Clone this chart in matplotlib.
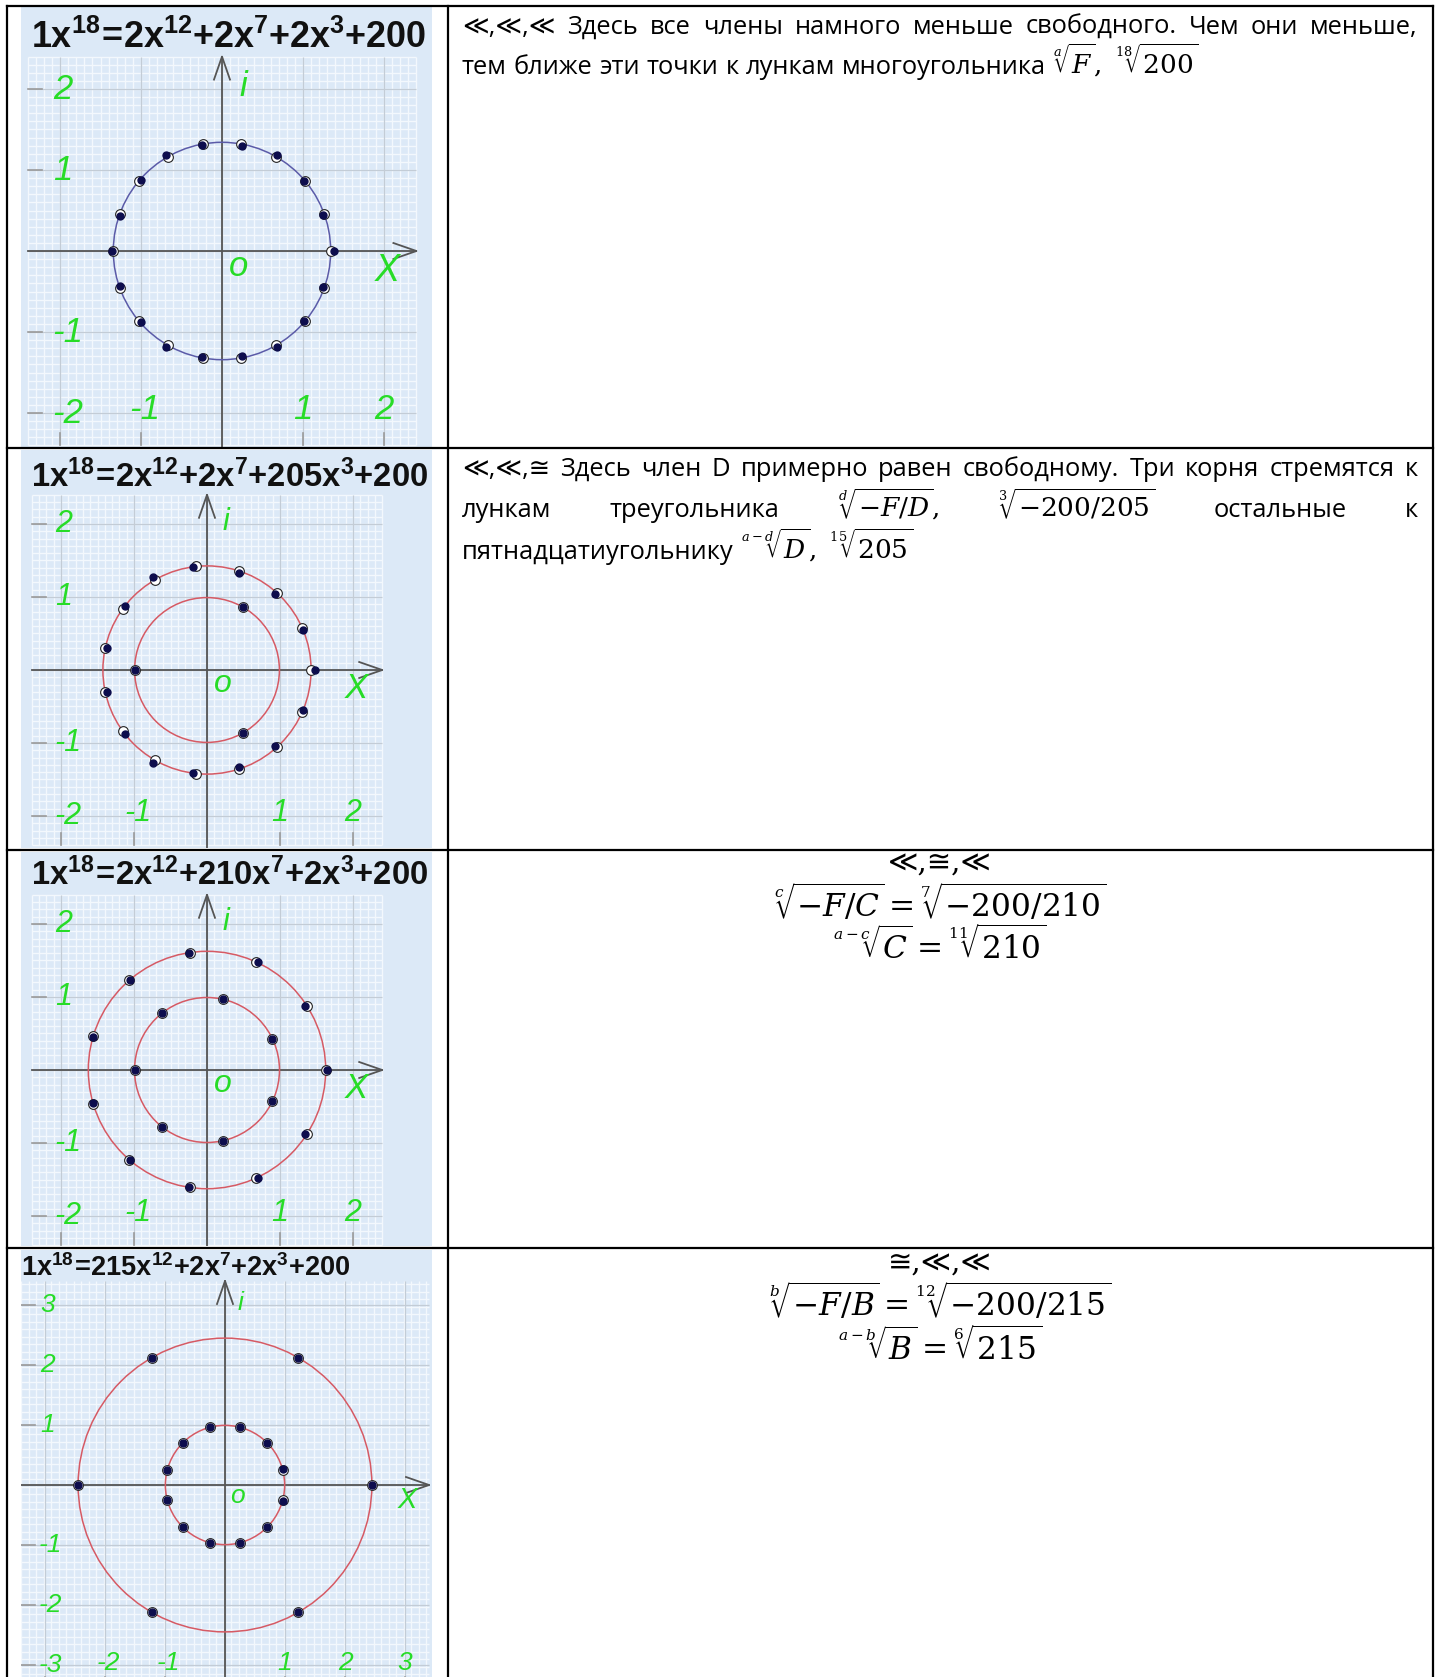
import numpy as np
import matplotlib
matplotlib.use("Agg")
import matplotlib.pyplot as plt
from matplotlib.patches import Circle

plt.rcParams['mathtext.fontset'] = 'custom'
plt.rcParams['mathtext.rm'] = 'Liberation Sans'
plt.rcParams['mathtext.bf'] = 'Liberation Sans:bold'
plt.rcParams['mathtext.it'] = 'Liberation Sans:italic'

W, H = 1438, 1677

# ---------------- data ----------------
titles = [
    r"$\mathbf{1x^{18}\!=\!2x^{12}{+}2x^{7}{+}2x^{3}{+}200}$",
    r"$\mathbf{1x^{18}\!=\!2x^{12}{+}2x^{7}{+}205x^{3}{+}200}$",
    r"$\mathbf{1x^{18}\!=\!2x^{12}{+}210x^{7}{+}2x^{3}{+}200}$",
    r"$\mathbf{1x^{18}\!=\!215x^{12}{+}2x^{7}{+}2x^{3}{+}200}$",
]
ticks_small = [-2, -1, 1, 2]
ticks_big = [-3, -2, -1, 1, 2, 3]

# roots (filled dots)
p1_root_x = [1.377, 1.251, 1.007, 0.681, 0.253, -0.249, -0.689, -1.002, -1.261, -1.362, -1.261, -1.002, -0.689, -0.249, 0.253, 0.681, 1.007, 1.251]
p1_root_y = [0.000, 0.439, 0.867, 1.190, 1.298, 1.312, 1.182, 0.873, 0.431, 0.000, -0.431, -0.873, -1.182, -1.312, -1.298, -1.190, -0.867, -0.439]
p2_root_x = [1.476, 1.315, 0.938, 0.495, 0.437, -0.189, -0.738, -1.126, -1.375, -0.990, -1.375, -1.126, -0.738, -0.189, 0.437, 0.495, 0.938, 1.315]
p2_root_y = [0.000, 0.546, 1.036, 0.863, 1.333, 1.416, 1.273, 0.870, 0.297, 0.000, -0.297, -0.870, -1.273, -1.416, -1.333, -0.863, -1.036, -0.546]
p3_root_x = [1.646, 0.896, 1.347, 0.692, 0.222, -0.245, -0.621, -1.056, -1.563, -0.992, -1.563, -1.056, -0.621, -0.245, 0.222, 0.692, 1.347, 0.896]
p3_root_y = [0.000, 0.431, 0.876, 1.486, 0.966, 1.602, 0.777, 1.239, 0.447, 0.000, -0.447, -1.239, -0.777, -1.602, -0.966, -1.486, -0.876, -0.431]
p4_root_x = [2.448, 0.960, 0.703, 1.224, 0.257, -0.257, -1.224, -0.703, -0.960, -2.448, -0.960, -0.703, -1.224, -0.257, 0.257, 1.224, 0.703, 0.960]
p4_root_y = [0.000, 0.259, 0.703, 2.120, 0.959, 0.962, 2.120, 0.703, 0.256, 0.000, -0.256, -0.703, -2.120, -0.962, -0.959, -2.120, -0.703, -0.259]

# polygon vertices ("lunki", open circles): ring radius + angles in degrees
p1_rings = [1.342]
p1_angles = [[0, 20, 40, 60, 80, 100, 120, 140, 160, 180, 200, 220, 240, 260, 280, 300, 320, 340]]
p2_rings = [1.426, 0.992]
p2_angles = [[0, 24, 48, 72, 96, 120, 144, 168, 192, 216, 240, 264, 288, 312, 336], [60, 180, 300]]
p3_rings = [1.626, 0.993]
p3_angles = [[0, 32.7, 65.5, 98.2, 130.9, 163.6, 196.4, 229.1, 261.8, 294.5, 327.3],
             [25.7, 77.1, 128.6, 180, 231.4, 282.9, 334.3]]
p4_rings = [2.448, 0.994]
p4_angles = [[0, 60, 120, 180, 240, 300], [15, 45, 75, 105, 135, 165, 195, 225, 255, 285, 315, 345]]

panels = [
    (p1_root_x, p1_root_y, p1_rings, p1_angles, ticks_small),
    (p2_root_x, p2_root_y, p2_rings, p2_angles, ticks_small),
    (p3_root_x, p3_root_y, p3_rings, p3_angles, ticks_small),
    (p4_root_x, p4_root_y, p4_rings, p4_angles, ticks_big),
]

# pixel layout of each picture cell
layout = [
    dict(box=(21, 6, 432, 447), org=(222, 251), u=81, G=2.4, minor=0.1, tpos=(229, 48), tfs=25.8, tha='center',
         lfs=25, xfs=27, ifs=25, ofs=25, ccol='#5b5ba8'),
    dict(box=(21, 450, 432, 848), org=(207, 670), u=73, G=2.4, minor=0.1, tpos=(230, 487), tfs=23.6, tha='center',
         lfs=22, xfs=25, ifs=22, ofs=23, ccol='#d65a64'),
    dict(box=(21, 852, 432, 1246), org=(207, 1070), u=73, G=2.4, minor=0.1, tpos=(230, 885), tfs=23.6, tha='center',
         lfs=22, xfs=25, ifs=22, ofs=23, ccol='#d65a64'),
    dict(box=(21, 1250, 432, 1677), org=(225, 1485), u=60, G=3.4, minor=0.125, tpos=(21, 1276), tfs=19.5, tha='left',
         lfs=19, xfs=21, ifs=19, ofs=19, ccol='#d65a64'),
]

GREEN = '#27dc27'
BG = '#dce9f7'


def fx(x):
    return x / W


def fy(y):
    return 1 - y / H


fig = plt.figure(figsize=(W / 100, H / 100), dpi=100)
fig.patch.set_facecolor('white')

for k, ((rx, ry, rings, angs, ticks), L) in enumerate(zip(panels, layout)):
    x0, y0, x1, y1 = L['box']
    ox, oy = L['org']
    u = L['u']
    G = L['G']
    R = max(ticks)
    ax = fig.add_axes([fx(x0), fy(y1), (x1 - x0) / W, (y1 - y0) / H])
    ax.set_facecolor(BG)
    ax.set_xlim((x0 - ox) / u, (x1 - ox) / u)
    ax.set_ylim((oy - y1) / u, (oy - y0) / u)
    ax.set_xticks([])
    ax.set_yticks([])
    for s in ax.spines.values():
        s.set_visible(False)

    # grid
    mv = np.arange(-G, G + 1e-6, L['minor'])
    ax.vlines(mv, -G, G, color='#f3f8fd', lw=1.0, zorder=1)
    ax.hlines(mv, -G, G, color='#f3f8fd', lw=1.0, zorder=1)
    maj = np.arange(-R, R + 1)
    ax.vlines(maj, -G, G, color='#c3ccd6', lw=0.9, zorder=1.5)
    ax.hlines(maj, -G, G, color='#c3ccd6', lw=0.9, zorder=1.5)

    # axes with open arrow heads
    al, aw = 23 / u, 8 / u
    ax.plot([-G, G], [0, 0], color='#555555', lw=1.3, zorder=2)
    ax.plot([0, 0], [-G - 0.2, G], color='#555555', lw=1.3, zorder=2)
    ax.plot([G - al, G, G - al], [aw, 0, -aw], color='#555555', lw=1.3, zorder=2)
    ax.plot([-aw, 0, aw], [G - al, G, G - al], color='#555555', lw=1.3, zorder=2)

    # tick dashes
    for v in ticks:
        ax.plot([-G, -G + 14 / u], [v, v], color='#9a9a9a', lw=1.2, zorder=2)
        ax.plot([v, v], [-G, -G + 12 / u], color='#9a9a9a', lw=1.2, zorder=2)

    # tick labels
    for v in ticks:
        ax.text(-R + 0.04 + (0.05 if v < 0 else 0), v, str(v), color=GREEN, fontsize=L['lfs'],
                style='italic', family='Liberation Sans', ha='center', va='center', zorder=3)
        if v != -R:
            ax.text(v + (0.05 if v < 0 else 0), -R + 0.04, str(v), color=GREEN, fontsize=L['lfs'],
                    style='italic', family='Liberation Sans', ha='center', va='center', zorder=3)
    ax.text(0.26, R + 0.03, 'i', color=GREEN, fontsize=L['ifs'], style='italic',
            family='Liberation Sans', ha='center', va='center', zorder=3)
    ax.text(R + 0.04, -0.25, 'X', color=GREEN, fontsize=L['xfs'], style='italic',
            family='Liberation Sans', ha='center', va='center', zorder=3)
    ax.text(0.21, -0.19, 'o', color=GREEN, fontsize=L['ofs'], style='italic',
            family='Liberation Sans', ha='center', va='center', zorder=3)

    # circles
    for r in rings:
        ax.add_patch(Circle((0, 0), r, fill=False, ec=L['ccol'], lw=1.1, zorder=3))

    # polygon vertices (open) and roots (filled)
    for r, a in zip(rings, angs):
        a = np.radians(a)
        ax.plot(r * np.cos(a), r * np.sin(a), 'o', ms=7.0, mfc='white', mec='#222222', mew=0.8,
                ls='none', zorder=4)
    ax.plot(rx, ry, 'o', ms=5.0, color='#0d0d4d', ls='none', zorder=5)

    tx, ty = L['tpos']
    fig.text(fx(tx), fy(ty), titles[k], fontsize=L['tfs'], ha=L['tha'], va='baseline',
             color='#111111', zorder=6)

# ---------------- right column text ----------------
BODY = ['Open Sans', 'DejaVu Sans']
renderer = fig.canvas.get_renderer()


def put_line(tokens, x0, y, x1=None, fs=18.4, mfs=19):
    arts = []
    for s in tokens:
        if s.startswith('$'):
            t = fig.text(0, 0, s, fontsize=mfs, math_fontfamily='dejavuserif', va='baseline')
        else:
            t = fig.text(0, 0, s, fontsize=fs, family=BODY, va='baseline')
        arts.append(t)
    ws = [t.get_window_extent(renderer).width for t in arts]
    if x1 is None:
        gap = 0.27 * fs * 100 / 72
    else:
        gap = (x1 - x0 - sum(ws)) / (len(arts) - 1)
    x = x0
    for t, w in zip(arts, ws):
        t.set_position((fx(x), fy(y)))
        x += w + gap


TX0, TX1 = 462, 1418
put_line("≪,≪,≪ Здесь все члены намного меньше свободного. Чем они меньше,".split(), TX0, 34, TX1)
put_line("тем ближе эти точки к лункам многоугольника".split() + [r"$\sqrt[a]{F},\ \sqrt[18]{200}$"], TX0, 74)

put_line("≪,≪,≅ Здесь член D примерно равен свободному. Три корня стремятся к".split(), TX0, 476, TX1)
put_line(["лункам", "треугольника", r"$\sqrt[d]{-F/D},$", r"$\sqrt[3]{-200/205}$", "остальные", "к"],
         TX0, 517, TX1)
put_line(["пятнадцатиугольнику", r"$\sqrt[a-d]{D},\ \sqrt[15]{205}$"], TX0, 559)

CX = 940
MFS = 22.5
SYM = ['DejaVu Serif', 'DejaVu Sans']
fig.text(fx(CX), fy(872), "≪,≅,≪", fontsize=21, family=SYM, ha='center', va='baseline')
fig.text(fx(CX), fy(918), r"$\sqrt[c]{-F/C}=\sqrt[7]{-200/210}$", fontsize=MFS, math_fontfamily='dejavuserif',
         ha='center', va='baseline')
fig.text(fx(CX), fy(960), r"$\sqrt[a-c]{C}=\sqrt[11]{210}$", fontsize=MFS, math_fontfamily='dejavuserif',
         ha='center', va='baseline')

fig.text(fx(CX), fy(1272), "≅,≪,≪", fontsize=21, family=SYM, ha='center', va='baseline')
fig.text(fx(CX), fy(1317), r"$\sqrt[b]{-F/B}=\sqrt[12]{-200/215}$", fontsize=MFS, math_fontfamily='dejavuserif',
         ha='center', va='baseline')
fig.text(fx(CX), fy(1361), r"$\sqrt[a-b]{B}=\sqrt[6]{215}$", fontsize=MFS, math_fontfamily='dejavuserif',
         ha='center', va='baseline')

# ---------------- table borders ----------------
for xv in [7, 448, 1433]:
    fig.add_artist(plt.Line2D([fx(xv), fx(xv)], [fy(6), 0], color='black', lw=1.6))
for yv in [6, 448, 850, 1248]:
    fig.add_artist(plt.Line2D([fx(7), fx(1433)], [fy(yv), fy(yv)], color='black', lw=1.6))

fig.savefig('out.png', dpi=100)
